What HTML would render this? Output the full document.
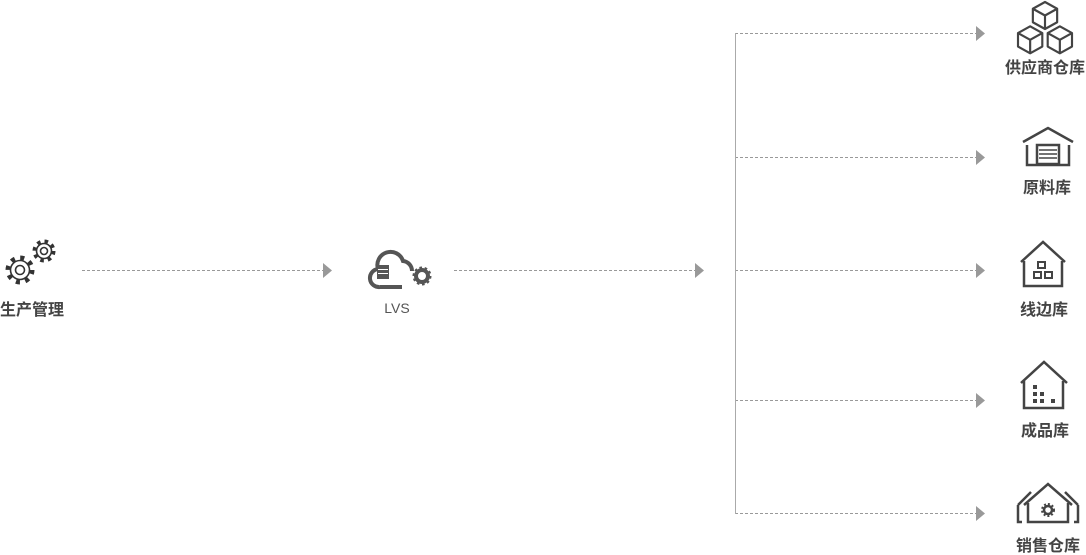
<!DOCTYPE html>
<html><head><meta charset="utf-8"><style>
body{margin:0;background:#fff;width:1086px;height:555px;overflow:hidden}
svg{display:block}
.t{font-family:"Liberation Sans","Noto Sans CJK SC",sans-serif;font-size:16px;font-weight:bold;fill:#444;text-anchor:middle}
</style></head><body>
<svg width="1086" height="555" viewBox="0 0 1086 555">
<g stroke="#999" stroke-width="1" stroke-dasharray="3,2" fill="none">
<line x1="82" y1="270.5" x2="323" y2="270.5"/>
<line x1="454" y1="270.5" x2="695" y2="270.5"/>
<line x1="735" y1="33.5" x2="976" y2="33.5"/>
<line x1="735" y1="157.5" x2="976" y2="157.5"/>
<line x1="735" y1="270.5" x2="976" y2="270.5"/>
<line x1="735" y1="400.5" x2="976" y2="400.5"/>
<line x1="735" y1="513.5" x2="976" y2="513.5"/>
</g>
<line x1="735.5" y1="33" x2="735.5" y2="514" stroke="#aaa"/>
<g fill="#999">
<polygon points="323,263 332,270.5 323,278"/>
<polygon points="695,263 704,270.5 695,278"/>
<polygon points="976,26 985,33.5 976,41"/>
<polygon points="976,150 985,157.5 976,165"/>
<polygon points="976,263 985,270.5 976,278"/>
<polygon points="976,393 985,400.5 976,408"/>
<polygon points="976,506 985,513.5 976,521"/>
</g>
<!-- gears -->
<g fill="none" stroke="#333">
<circle cx="20" cy="270" r="12" stroke-dasharray="4,5.4" stroke-width="5"/>
<circle cx="20" cy="270" r="9.5" fill="#fff" stroke-width="1.6"/>
<circle cx="20" cy="270" r="4.5" stroke-width="1.6"/>
<circle cx="44" cy="251" r="9.5" stroke-dasharray="3.5,4" stroke-width="4"/>
<circle cx="44" cy="251" r="7.5" fill="#fff" stroke-width="1.6"/>
<circle cx="44" cy="251" r="3.5" stroke-width="1.6"/>
</g>
<text class="t" x="32" y="315">生产管理</text>
<!-- cloud -->
<path d="M380 287 h22 M380 287 a9 9 0 0 1 -2 -18 a13 13 0 0 1 25 -8 a10 10 0 0 1 9 10" fill="none" stroke="#555" stroke-width="4"/>
<rect x="377" y="265" width="12" height="14" fill="#555"/>
<g stroke="#fff" stroke-width="1"><line x1="378" y1="269.5" x2="388" y2="269.5"/><line x1="378" y1="273.5" x2="388" y2="273.5"/></g>
<circle cx="422" cy="276" r="6" fill="none" stroke="#555" stroke-width="4"/>
<circle cx="422" cy="276" r="8" fill="none" stroke="#555" stroke-width="3" stroke-dasharray="2.5,2.5"/>
<text x="397" y="313" font-family="Liberation Sans,sans-serif" font-size="14" fill="#555" text-anchor="middle">LVS</text>
<!-- cubes -->
<g fill="none" stroke="#444" stroke-width="1.6" stroke-linejoin="round" transform="translate(1045,29) scale(1.35) translate(-1045,-25)">
<path d="M1036 10 l9 -5 l9 5 v10 l-9 5 l-9 -5z M1036 10 l9 5 l9 -5 M1045 15 v10"/>
<path d="M1025 28 l9 -5 l9 5 v10 l-9 5 l-9 -5z M1025 28 l9 5 l9 -5 M1034 33 v10"/>
<path d="M1047 28 l9 -5 l9 5 v10 l-9 5 l-9 -5z M1047 28 l9 5 l9 -5 M1056 33 v10"/>
</g>
<text class="t" x="1045" y="73">供应商仓库</text>
<!-- garage -->
<g fill="none" stroke="#444" stroke-width="2.5">
<path d="M1023 142 l25 -14 l25 14"/>
<path d="M1027 145 v20 h42 v-20"/>
<rect x="1037" y="145" width="22" height="19"/>
</g>
<g stroke="#444" stroke-width="1.5"><line x1="1039" y1="150" x2="1057" y2="150"/><line x1="1039" y1="154" x2="1057" y2="154"/><line x1="1039" y1="158" x2="1057" y2="158"/></g>
<text class="t" x="1047" y="193">原料库</text>
<!-- line side -->
<g fill="none" stroke="#444" stroke-width="2.5">
<path d="M1021 262 l22 -20 l22 20"/>
<path d="M1024 261 v25 h38 v-25"/>
<rect x="1038" y="262" width="7" height="6" stroke-width="2"/>
<rect x="1034" y="272" width="7" height="6" stroke-width="2"/>
<rect x="1045" y="272" width="7" height="6" stroke-width="2"/>
</g>
<text class="t" x="1044" y="315">线边库</text>
<!-- product -->
<g fill="none" stroke="#444" stroke-width="2.5">
<path d="M1021 383 l23 -21 l23 21"/>
<path d="M1024 381 v27 h39 v-27"/>
</g>
<g fill="#444"><rect x="1033" y="385" width="4" height="4"/><rect x="1033" y="392" width="4" height="4"/><rect x="1040" y="392" width="4" height="4"/><rect x="1033" y="399" width="4" height="4"/><rect x="1040" y="399" width="4" height="4"/><rect x="1051" y="399" width="4" height="4"/></g>
<text class="t" x="1045" y="436">成品库</text>
<!-- sales -->
<g fill="none" stroke="#444" stroke-width="2.5">
<path d="M1018 505 l13 -13 M1018 505 v17 h4"/>
<path d="M1078 505 l-13 -13 M1078 505 v17 h-4"/>
<path d="M1024 505 l24 -21 l24 21"/>
<path d="M1028 503 v19 h40 v-19"/>
<circle cx="1048" cy="510" r="4"/>
</g>
<circle cx="1048" cy="510" r="6" fill="none" stroke="#444" stroke-width="2" stroke-dasharray="2,2"/>
<text class="t" x="1048" y="551">销售仓库</text>
</svg>
</body></html>
